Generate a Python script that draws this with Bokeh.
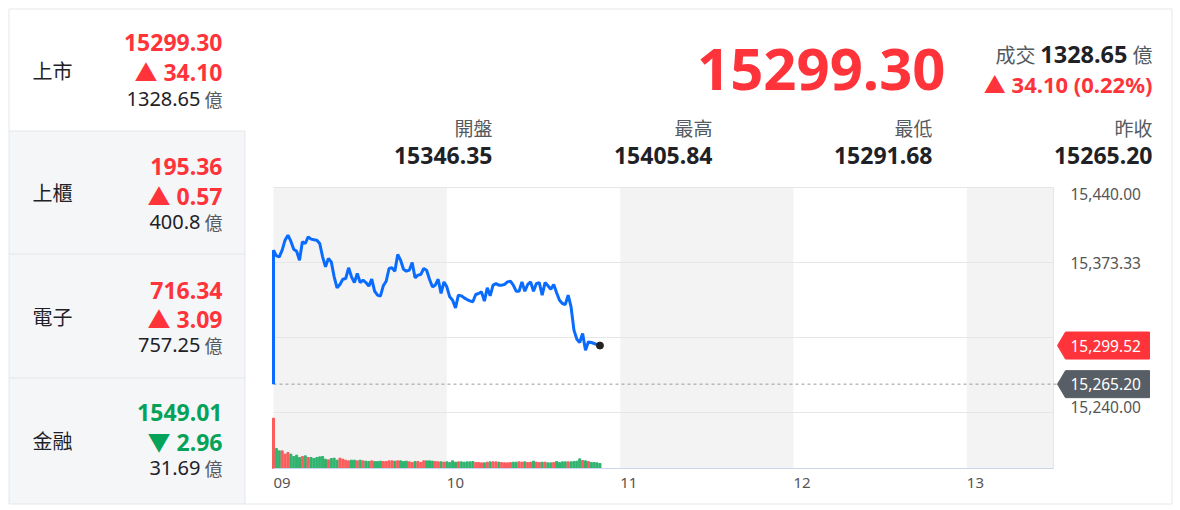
from bokeh.plotting import figure
from bokeh.models import Range1d
from bokeh.embed import file_html
from bokeh.resources import INLINE
from bokeh.core.properties import value

CJK = "Noto Sans CJK TC"
LAT = "Noto Sans"
MIX = "Noto Sans, Noto Sans CJK TC"
RED = "#ff333a"
GREEN = "#05a25a"
DARK = "#1e2126"
GRAY = "#555a60"
AXIS_TXT = "#555555"

# ---------------- data ----------------
index_names = ["上市", "上櫃", "電子", "金融"]
index_values = ["15299.30", "195.36", "716.34", "1549.01"]
index_changes = [34.10, 0.57, 3.09, -2.96]
index_turnover = ["1328.65", "400.8", "757.25", "31.69"]

last_price = "15299.30"
last_change = 34.10
last_change_pct = 0.22
turnover = "1328.65"
ohlc_labels = ["開盤", "最高", "最低", "昨收"]
ohlc_values = ["15346.35", "15405.84", "15291.68", "15265.20"]
prev_close = 15265.20
last_tick = 15299.52

hour_labels = ["09", "10", "11", "12", "13"]
session_minutes = 270
y_ticks = [15240.00, 15306.67, 15373.33, 15440.00]

prices = [
    15384.3, 15379.2, 15378.4, 15384.3, 15393.2, 15397.6, 15392.3, 15385.2, 15383.4, 15375.4,
    15391.7, 15390.2, 15396.1, 15394.1, 15393.5, 15393.2, 15390.2, 15378.4, 15369.5, 15376.9,
    15373.9, 15360.6, 15350.8, 15353.8, 15358.5, 15359.1, 15368.6, 15360.6, 15355.5, 15363.5,
    15355.5, 15357.6, 15355.5, 15352.3, 15358.5, 15347.8, 15344.3, 15343.4, 15352.6, 15356.7,
    15368.0, 15368.6, 15365.6, 15380.4, 15375.4, 15367.4, 15365.6, 15366.5, 15373.3, 15359.7,
    15362.1, 15362.7, 15368.0, 15366.5, 15358.5, 15351.7, 15353.2, 15358.5, 15345.8, 15356.1,
    15351.7, 15342.8, 15339.8, 15333.0, 15344.3, 15343.7, 15341.9, 15340.4, 15339.2, 15338.4,
    15344.9, 15345.8, 15347.2, 15339.0, 15350.8, 15343.7, 15353.2, 15354.6, 15353.2, 15353.2,
    15353.8, 15356.1, 15356.7, 15353.2, 15347.8, 15347.8, 15356.1, 15347.8, 15353.8, 15356.1,
    15347.8, 15354.6, 15355.5, 15344.3, 15355.5, 15352.6, 15349.6, 15353.8, 15346.4, 15339.8,
    15336.9, 15336.0, 15344.3, 15333.9, 15313.2, 15305.2, 15302.2, 15310.2, 15295.4, 15302.8,
    15302.2, 15301.3, 15300.4, 15299.52,
]
volumes = [
    151, 60, 53, 53, 43, 48, 43, 36, 40, 33,
    36, 38, 33, 33, 30, 33, 35, 36, 28, 26,
    30, 31, 25, 31, 28, 25, 23, 25, 25, 23,
    25, 23, 22, 21, 23, 21, 21, 22, 21, 21,
    23, 23, 22, 23, 23, 21, 22, 20, 18, 21,
    21, 18, 23, 23, 23, 22, 21, 20, 20, 19,
    20, 18, 23, 19, 20, 20, 19, 20, 20, 21,
    18, 18, 17, 17, 19, 20, 20, 20, 19, 18,
    17, 17, 18, 19, 19, 20, 19, 20, 18, 19,
    22, 19, 18, 19, 19, 17, 17, 18, 21, 18,
    20, 20, 20, 20, 21, 22, 29, 24, 23, 21,
    18, 18, 17, 15,
]
minutes = list(range(len(prices)))

# ---------------- layout geometry (pixels) ----------------
W, H = 1176, 506
CHART_L, CHART_R, CHART_T = 273, 1053, 187
PRICE_PX, VOL_PX = 225, 56
VOL_MAX = 168
PPM = (CHART_R - CHART_L) / session_minutes          # px per minute
PPT = PRICE_PX / (y_ticks[-1] - y_ticks[0])          # px per index point
UPP = VOL_MAX / VOL_PX                               # volume units per px
vol_base_px = CHART_T + PRICE_PX + VOL_PX
price_floor = y_ticks[0] - VOL_PX / PPT

p = figure(width=W, height=H,
           x_range=Range1d(-CHART_L / PPM, (W - CHART_L) / PPM),
           y_range=Range1d(y_ticks[-1] - (H - CHART_T) / PPT, y_ticks[-1] + CHART_T / PPT),
           output_backend="svg", toolbar_location=None, min_border=0)
p.axis.visible = False
p.grid.visible = False
p.outline_line_color = None
p.extra_x_ranges = {"px": Range1d(0, W)}
p.extra_y_ranges = {"px": Range1d(H, 0),
                    "vol": Range1d(-(H - vol_base_px) * UPP, vol_base_px * UPP)}

PX = dict(x_range_name="px", y_range_name="px")


def txt(xs, ys, texts, size, color, font=LAT, bold=False, align="left", baseline="middle", **kw):
    p.text(x=xs, y=ys, text=texts, text_font=value(font), text_font_size=f"{size}px",
           text_font_style="bold" if bold else "normal", text_color=color,
           text_align=align, text_baseline=baseline, **kw)


# ---------------- card + left panel ----------------
row_tops = [8.5, 130.5, 253.5, 377.5]
row_bottoms = [130.5, 253.5, 377.5, 503.5]
p.quad(left=8.5, right=244.5, top=row_tops[1:], bottom=row_bottoms[1:],
       fill_color="#f5f6f8", line_color=None, **PX)
p.segment(x0=8.5, x1=244.5, y0=row_tops[1:], y1=row_tops[1:], line_color="#e4e7eb", **PX)
p.segment(x0=244.5, x1=244.5, y0=row_tops[1], y1=row_bottoms[-1], line_color="#e4e7eb", **PX)
p.quad(left=8.5, right=1171.5, top=8.5, bottom=503.5, fill_alpha=0, line_color="#e4e7eb", **PX)

cols = [RED if c > 0 else GREEN for c in index_changes]
chg_txt = [("▲ " if c > 0 else "▼ ") + f"{abs(c):.2f}" for c in index_changes]
txt([32] * 4, [70, 192, 316, 440], index_names, 20, DARK, font=CJK, **PX)
txt([222] * 4, [42, 166, 290, 412], index_values, 23, cols, bold=True, align="right", **PX)
txt([222] * 4, [71, 195, 318, 441], chg_txt, 23, cols, font=MIX, bold=True, align="right", **PX)
txt([200] * 4, [98, 221, 344, 467], index_turnover, 20, DARK, align="right", **PX)
txt([222] * 4, [98, 221, 344, 467], ["億"] * 4, 18, GRAY, font=CJK, align="right", **PX)

# ---------------- header ----------------
txt([945], [69], [last_price], 58, RED, bold=True, align="right", **PX)
txt([1035], [54], ["成交"], 20, GRAY, font=CJK, align="right", **PX)
txt([1127], [54], [turnover], 23.5, DARK, bold=True, align="right", **PX)
txt([1152], [54], ["億"], 20, GRAY, font=CJK, align="right", **PX)
txt([1152], [83], [f"▲ {last_change:.2f} ({last_change_pct:.2f}%)"], 22, RED, font=MIX,
    bold=True, align="right", **PX)
col_x = [492, 712, 932, 1152]
txt(col_x, [127] * 4, ohlc_labels, 19, GRAY, font=CJK, align="right", **PX)
txt(col_x, [155] * 4, ohlc_values, 23, DARK, bold=True, align="right", **PX)

# ---------------- chart ----------------
band_starts = [h * 60 for h in range(0, len(hour_labels), 2)]
band_ends = [min(s + 60, session_minutes) for s in band_starts]
p.quad(left=band_starts, right=band_ends, top=y_ticks[-1], bottom=price_floor,
       fill_color="#f3f3f3", line_color=None)
p.segment(x0=0, x1=session_minutes, y0=y_ticks, y1=y_ticks, line_color="#e6e6e6", line_width=1)
p.segment(x0=[session_minutes], x1=[session_minutes], y0=[price_floor], y1=[y_ticks[-1]],
          line_color="#e6e6e6", line_width=1)

ref = [prev_close] + prices[:-1]
bar_cols = ["#fb5c5c" if c >= r else "#2fb36e" for c, r in zip(prices, ref)]
p.vbar(x=minutes, top=volumes, bottom=0, width=0.7, y_range_name="vol", color=bar_cols)
p.segment(x0=0, x1=session_minutes, y0=price_floor, y1=price_floor, line_color="#ccd6eb", line_width=1)

p.segment(x0=0, x1=session_minutes + 4 / PPM, y0=prev_close, y1=prev_close,
          line_color="#9a9a9a", line_dash="3 3", line_width=1)
p.line(x=[0] + minutes, y=[prev_close] + prices, line_color="#0a6cff", line_width=3)
p.scatter(x=[minutes[-1]], y=[prices[-1]], size=7, color="#222222")

# x tick labels
txt([h * 60 for h in range(len(hour_labels))], [482] * len(hour_labels), hour_labels, 15,
    AXIS_TXT, y_range_name="px")

# y tick labels (hidden when covered by the last-price tag)
shown = [t for t in y_ticks if abs(t - last_tick) * PPT > 14]
fmt = [f"{t:,.2f}" for t in shown]
top_lbl = [i for i, t in enumerate(shown) if t == y_ticks[-1]]
bot_lbl = [i for i, t in enumerate(shown) if t == y_ticks[0]]
mid_lbl = [i for i in range(len(shown)) if i not in top_lbl + bot_lbl]
lab_x = CHART_R + 17
LBL = 15.5
txt([lab_x] * len(top_lbl), [shown[i] for i in top_lbl], [fmt[i] for i in top_lbl], LBL, AXIS_TXT,
    baseline="top", x_range_name="px")
txt([lab_x] * len(mid_lbl), [shown[i] for i in mid_lbl], [fmt[i] for i in mid_lbl], LBL, AXIS_TXT,
    x_range_name="px")
txt([lab_x] * len(bot_lbl), [shown[i] for i in bot_lbl], [fmt[i] for i in bot_lbl], LBL, AXIS_TXT,
    baseline="bottom", x_range_name="px")

# price tags
half = 13.5 / PPT
tip, body_l, body_r = CHART_R + 4, CHART_R + 12, CHART_R + 96
for val, col in [(last_tick, RED), (prev_close, "#585e65")]:
    p.patch(x=[tip, body_l, body_r, body_r, body_l],
            y=[val, val + half, val + half, val - half, val - half],
            fill_color=col, line_color=col, line_join="round", x_range_name="px")
    txt([lab_x], [val], [f"{val:,.2f}"], LBL, "#ffffff", x_range_name="px")

open("out.html", "w").write(file_html(p, INLINE))
